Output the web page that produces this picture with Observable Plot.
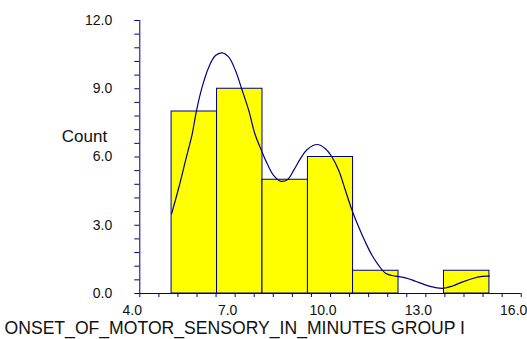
<!DOCTYPE html>
<html>
<head>
<meta charset="utf-8">
<script src="https://cdn.jsdelivr.net/npm/d3@7"></script>
<script src="https://cdn.jsdelivr.net/npm/@observablehq/plot@0.6"></script>
<style>
  html, body { margin: 0; padding: 0; background: #ffffff; }
  #chart svg { display: block; }
</style>
</head>
<body>
<div id="chart"></div>
<script>
// Histogram of onset times (minutes), group I: 7 bins from 5 to 15
const binEdges = [5.0, 6.43, 7.86, 9.29, 10.71, 12.14, 13.57, 15.0];
const counts = [8, 9, 5, 6, 1, 0, 1];

// Density curve scaled to counts
const curveX = [5.00, 5.23, 5.44, 5.65, 5.78, 5.96, 6.17, 6.38, 6.59, 6.80, 7.01, 7.20, 7.43, 7.62,
                7.85, 8.01, 8.21, 8.42, 8.64, 8.84, 9.05, 9.26, 9.58, 9.84, 10.05, 10.26, 10.47, 10.68,
                10.89, 11.10, 11.31, 11.52, 11.73, 12.04, 12.36, 12.67, 12.98, 13.30, 13.56, 13.82,
                14.14, 14.45, 14.77, 15.00];
const curveY = [3.50, 4.67, 5.85, 7.02, 8.01, 9.07, 9.95, 10.46, 10.58, 10.39, 9.80, 9.02, 8.04, 7.02,
                6.21, 5.70, 5.19, 4.94, 5.00, 5.41, 5.92, 6.32, 6.55, 6.36, 5.99, 5.41, 4.53, 3.65,
                2.91, 2.25, 1.67, 1.23, 0.89, 0.76, 0.69, 0.54, 0.38, 0.26, 0.23, 0.32,
                0.50, 0.65, 0.75, 0.76];

// Axis ticks
const xTicks = [4, 7, 10, 13, 16];
const yTicks = [0, 3, 6, 9, 12];
const xMinor = d3.range(0, 21).map(i => 4 + i * 0.6);
const yMinor = d3.range(0, 21).map(i => i * 0.6);

const bars = counts.map((c, i) => ({x1: binEdges[i], x2: binEdges[i + 1], count: c}));
const curve = curveX.map((x, i) => ({x, y: curveY[i]}));

const navy = "#000080";
const font = "'Liberation Sans', Arial, Helvetica, sans-serif";

const chart = Plot.plot({
  width: 527,
  height: 339,
  marginLeft: 139.3,
  marginRight: 6.3,
  marginTop: 20,
  marginBottom: 46,
  style: {fontFamily: font, fontSize: "14px", color: "#000", background: "#fff"},
  x: {domain: [4, 16]},
  y: {domain: [0, 12]},
  marks: [
    Plot.rectY(bars, {x1: "x1", x2: "x2", y: "count", fill: "#ffff00", stroke: navy, strokeWidth: 1}),
    Plot.line(curve, {x: "x", y: "y", stroke: navy, strokeWidth: 1.2, curve: "catmull-rom"}),
    Plot.ruleX([4], {y1: 0, y2: 12, stroke: navy}),
    Plot.ruleY([0], {x1: 4, x2: 16, stroke: navy}),
    Plot.axisX(xMinor, {tickSize: 4, stroke: navy, tickFormat: () => "", label: null}),
    Plot.axisX(xTicks, {tickSize: 0, tickPadding: 12, dx: -7.5, fill: "#111", fontSize: 14,
                        tickFormat: d3.format(".1f"), label: null}),
    Plot.axisY(yMinor, {tickSize: 5, stroke: navy, tickFormat: () => "", label: null}),
    Plot.axisY(yTicks, {tickSize: 0, tickPadding: 27.5, fill: "#111", fontSize: 14,
                        tickFormat: d3.format(".1f"), label: null}),
    Plot.text(["Count"], {frameAnchor: "top-left", dx: -55.3, dy: 121, lineAnchor: "bottom",
                          textAnchor: "middle", fontSize: 17, fill: "#111"}),
    Plot.text(["ONSET_OF_MOTOR_SENSORY_IN_MINUTES GROUP I"], {frameAnchor: "bottom-left", dx: -135.3, dy: 40,
                          lineAnchor: "bottom", textAnchor: "start", fontSize: 17.6, fill: "#111"})
  ]
});

document.getElementById("chart").appendChild(chart);
</script>
</body>
</html>
